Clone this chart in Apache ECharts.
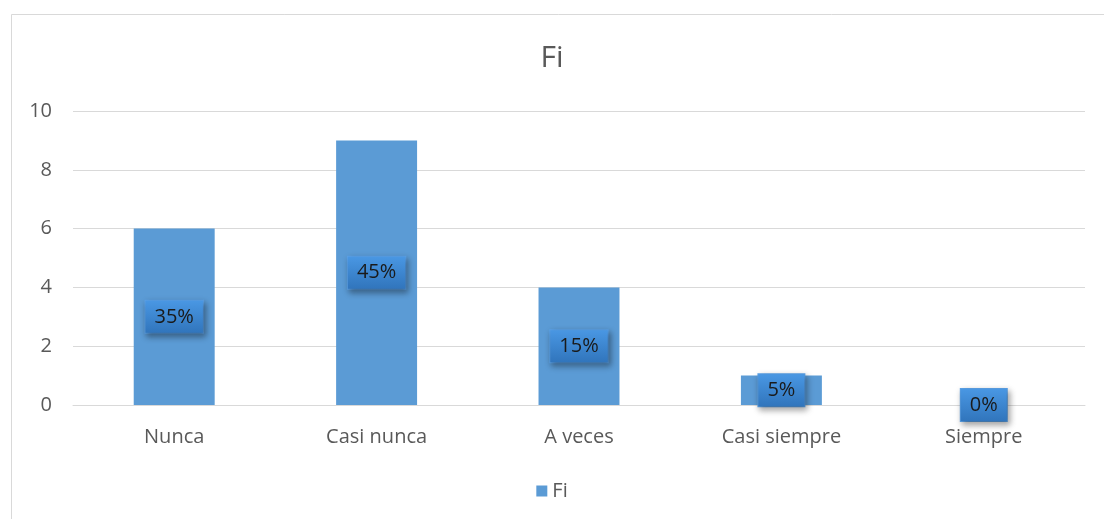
<!DOCTYPE html>
<html>
<head>
<meta charset="utf-8">
<script src="https://cdn.jsdelivr.net/npm/echarts@6/dist/echarts.min.js"></script>
<style>html,body{margin:0;padding:0;background:#fff;}#c{width:1104px;height:519px;}</style>
</head>
<body>
<div id="c"></div>
<script>
const categories = ["Nunca", "Casi nunca", "A veces", "Casi siempre", "Siempre"];
const values = [6, 9, 4, 1, 0];
const percents = ["35%", "45%", "15%", "5%", "0%"];
const yTicks = [0, 2, 4, 6, 8, 10];

const chart = echarts.init(document.getElementById('c'));
const font = '"Open Sans", "Noto Sans", sans-serif';
chart.setOption({
  animation: false,
  backgroundColor: '#ffffff',
  graphic: [{
    type: 'rect', left: 9, top: 12, z: -10,
    shape: { width: 1110, height: 520 },
    style: { fill: 'none', stroke: '#d9d9d9', lineWidth: 1 }
  }],
  title: {
    text: 'Fi', left: 'center', top: 38,
    textStyle: { fontFamily: font, fontSize: 30, fontWeight: 'normal', color: '#595959' }
  },
  legend: {
    bottom: 13, left: 'center', itemWidth: 11, itemHeight: 11, itemGap: 6,
    icon: 'rect',
    textStyle: { fontFamily: font, fontSize: 20, color: '#595959' },
    data: ['Fi']
  },
  grid: { left: 73, right: 19, top: 111, bottom: 114 },
  xAxis: {
    type: 'category', data: categories,
    axisLine: { lineStyle: { color: '#d9d9d9', width: 1 } },
    axisTick: { show: false },
    axisLabel: { fontFamily: font, fontSize: 20, color: '#595959', margin: 22 }
  },
  yAxis: {
    type: 'value', min: yTicks[0], max: yTicks[yTicks.length - 1], interval: 2,
    axisLine: { show: false }, axisTick: { show: false },
    splitLine: { lineStyle: { color: '#d9d9d9', width: 1 } },
    axisLabel: { fontFamily: font, fontSize: 20, color: '#595959', margin: 21 }
  },
  series: [{
    name: 'Fi', type: 'bar', data: values, barWidth: '40%',
    itemStyle: { color: '#5b9bd5' },
    label: {
      show: true, position: 'inside',
      formatter: p => percents[p.dataIndex],
      fontFamily: font, fontSize: 20, color: '#1a1a1a',
      padding: [7, 9, 5, 9],
      backgroundColor: new echarts.graphic.LinearGradient(0, 0, 0, 1, [
        { offset: 0, color: '#4a98e4' }, { offset: 1, color: '#3074bb' }
      ]),
      borderColor: '#5aa0e6', borderWidth: 1,
      shadowColor: 'rgba(0,0,0,0.35)', shadowBlur: 6, shadowOffsetX: 2, shadowOffsetY: 3
    }
  }]
});
</script>
</body>
</html>
